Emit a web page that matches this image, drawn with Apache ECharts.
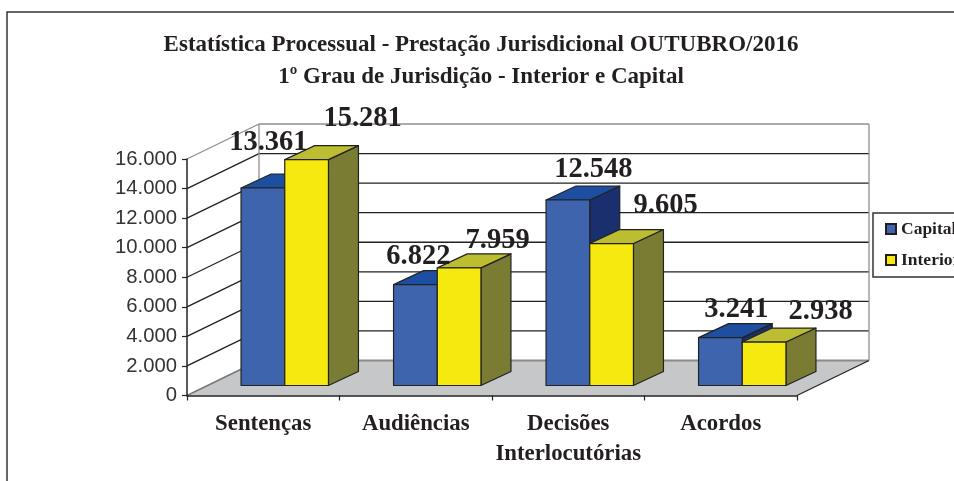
<!DOCTYPE html>
<html><head><meta charset="utf-8">
<style>html,body{margin:0;padding:0;background:#fff;overflow:hidden}#c{width:954px;height:481px}</style>
<script src="https://cdn.jsdelivr.net/npm/echarts@6/dist/echarts.min.js"></script>
</head><body><div id="c"></div>
<script>
const categories = ['Sentenças', 'Audiências', 'Decisões\nInterlocutórias', 'Acordos'];
const capital = [13361, 6822, 12548, 3241];
const interior = [15281, 7959, 9605, 2938];
const valueTicks = [0, 2000, 4000, 6000, 8000, 10000, 12000, 14000, 16000];
const titleText = 'Estatística Processual - Prestação Jurisdicional OUTUBRO/2016\n1º Grau de Jurisdição - Interior e Capital';

// presentation constants
const INK = '#231f20';
const WALL = [72, -35], BAR = [30, -14], LIFT = [22, -10], BARW = 43.7;
const capitalLabelOff = [[5.5, -45], [3, -28], [25.5, -30], [16, -28]];
const interiorLabelOff = [[56, -41], [38.5, -27], [54, -38], [56.5, -30]];
const fmt = v => String(v).replace(/\B(?=(\d{3})+$)/g, '.');
const SERIF = '"Liberation Serif","Times New Roman",serif';

function poly(pts, fill, stroke, lw) {
  return {type: 'polygon', shape: {points: pts},
    style: {fill: fill, stroke: stroke || null, lineWidth: lw || 1, lineJoin: 'round'}};
}
function line(a, b, stroke, lw) {
  return {type: 'line', shape: {x1: a[0], y1: a[1], x2: b[0], y2: b[1]},
    style: {stroke: stroke, lineWidth: lw, fill: null}};
}
function barSeries(name, values, side, cols, offs) {
  return {
    name: name, type: 'custom', z: 4,
    itemStyle: {color: cols[0], borderColor: INK, borderWidth: 1},
    data: values.map((v, i) => [i, v]),
    encode: {x: 0, y: 1},
    renderItem: function (params, api) {
      const i = api.value(0), v = api.value(1);
      const top = api.coord([i, v]), base = api.coord([i, 0]);
      const xL = top[0] + LIFT[0] + (side === 0 ? -BARW : 0) - 0.5;
      const xR = xL + BARW, yT = top[1] + LIFT[1], yB = base[1] + LIFT[1];
      const dx = BAR[0], dy = BAR[1];
      const ln = 1.2;
      return {type: 'group', children: [
        poly([[xR, yT], [xR + dx, yT + dy], [xR + dx, yB + dy], [xR, yB]], cols[2], '#222', ln),
        poly([[xL, yT], [xL + dx, yT + dy], [xR + dx, yT + dy], [xR, yT]], cols[1], '#222', ln),
        poly([[xL, yT], [xR, yT], [xR, yB], [xL, yB]], cols[0], '#222', ln),
        {type: 'text', z2: 50, style: {text: fmt(v), x: (xL + xR) / 2 + offs[i][0], y: top[1] + LIFT[1] + offs[i][1],
          align: 'center', verticalAlign: 'middle', fill: INK,
          font: 'bold 28.5px ' + SERIF}}
      ]};
    }
  };
}

const option = {
  animation: false,
  backgroundColor: '#fff',
  graphic: [{type: 'rect', z: -10, shape: {x: 7, y: 12, width: 1100, height: 800},
    style: {fill: '#fff', stroke: '#333', lineWidth: 1.5}}],
  title: {text: titleText, left: 476, top: 24, textAlign: 'center',
    textStyle: {fontFamily: SERIF, fontWeight: 'bold', fontSize: 23, lineHeight: 32, color: INK}},
  legend: {
    data: [{name: 'Capital'}, {name: 'Interior'}],
    orient: 'vertical', left: 873, top: 213,
    padding: [7, 12, 8, 12], itemWidth: 10, itemHeight: 10, itemGap: 13, icon: 'rect',
    backgroundColor: '#fff', borderColor: '#333', borderWidth: 1.5, borderRadius: 0,
    selectedMode: false,
    textStyle: {fontFamily: SERIF, fontWeight: 'bold', fontSize: 17.5, color: INK, padding: [1, 0, 0, 0]}
  },
  grid: {left: 187, right: 157, top: 159, bottom: 85.5, containLabel: false},
  xAxis: {
    type: 'category', data: categories, z: 6,
    axisLine: {show: true, lineStyle: {color: '#222', width: 1.5}},
    axisTick: {show: true, interval: 0, length: 5, lineStyle: {color: '#222', width: 1.2}},
    axisLabel: {interval: 0, fontFamily: SERIF, fontWeight: 'bold', fontSize: 22.8, lineHeight: 30, color: INK, margin: 14}
  },
  yAxis: {
    type: 'value', min: 0, max: 16000, interval: 2000, z: 6,
    splitLine: {show: false},
    axisLine: {show: true, lineStyle: {color: '#222', width: 1.5}},
    axisTick: {show: true, length: 5, lineStyle: {color: '#222', width: 1.2}},
    axisLabel: {fontFamily: '"Liberation Sans",Arial,sans-serif', fontSize: 20.3, color: '#333', margin: 10, formatter: fmt}
  },
  series: [
    {
      name: 'floor', type: 'custom', z: 1, silent: true,
      data: [[0, 0]], encode: {x: 0, y: 1},
      renderItem: function (params, api) {
        const cs = params.coordSys, y0 = api.coord([0, 0])[1];
        const L = cs.x, R = cs.x + cs.width;
        return {type: 'group', children: [
          poly([[L, y0], [R, y0], [R + WALL[0], y0 + WALL[1]], [L + WALL[0], y0 + WALL[1]]], '#c6c7c9'),
          line([L + WALL[0], y0 + WALL[1]], [R + WALL[0], y0 + WALL[1]], '#8a8a8a', 2),
          line([L, y0], [L + WALL[0], y0 + WALL[1]], '#777', 1.4),
          line([R, y0], [R + WALL[0], y0 + WALL[1]], '#222', 1.2)
        ]};
      }
    },
    {
      name: 'walls', type: 'custom', z: 2, silent: true,
      data: valueTicks.slice(1).map(v => [0, v]), encode: {x: 0, y: 1},
      renderItem: function (params, api) {
        const cs = params.coordSys, v = api.value(1), y = api.coord([0, v])[1];
        const L = cs.x, R = cs.x + cs.width, isTop = v === valueTicks[valueTicks.length - 1];
        const col = isTop ? '#8f8f8f' : '#222', by = y + WALL[1];
        const kids = [
          line([L, y], [L + WALL[0], by], col, 1.3),
          line([L + WALL[0], by], [R + WALL[0], by], col, 1.3)
        ];
        if (isTop) {
          const fy = api.coord([0, 0])[1] + WALL[1];
          kids.push(line([L + WALL[0], by], [L + WALL[0], fy], '#8f8f8f', 1.3));
          kids.push(line([R + WALL[0], by], [R + WALL[0], fy], '#8f8f8f', 1.3));
        }
        return {type: 'group', children: kids};
      }
    },
    barSeries('Capital', capital, 0, ['#3e64ae', '#1d4ea0', '#1a306e'], capitalLabelOff),
    barSeries('Interior', interior, 1, ['#f5e90f', '#bcbd30', '#7b7c34'], interiorLabelOff)
  ]
};
echarts.init(document.getElementById('c'), null, {renderer: 'canvas'}).setOption(option);
</script></body></html>
